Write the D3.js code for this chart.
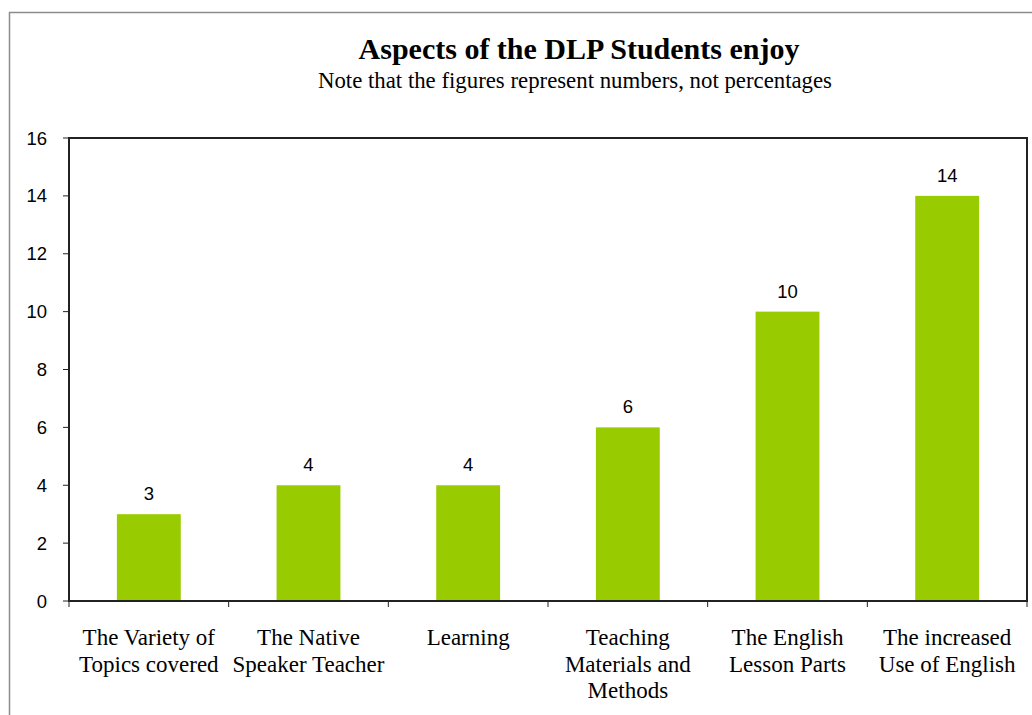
<!DOCTYPE html>
<html>
<head>
  <meta charset="utf-8">
  <script src="https://d3js.org/d3.v7.min.js"></script>
  <style>
    body { margin: 0; background: #fff; }
  </style>
</head>
<body>
  <svg id="chart" width="1032" height="715"></svg>
  <script>
    // data
    const categories = [
      ["The Variety of", "Topics covered"],
      ["The Native", "Speaker Teacher"],
      ["Learning"],
      ["Teaching", "Materials and", "Methods"],
      ["The English", "Lesson Parts"],
      ["The increased", "Use of English"]
    ];
    const values = [3, 4, 4, 6, 10, 14];
    const yTicks = [0, 2, 4, 6, 8, 10, 12, 14, 16];
    const title = "Aspects of the DLP Students enjoy";
    const subtitle = "Note that the figures represent numbers, not percentages";

    let svg = d3.select("svg#chart");

    // outer chart frame (runs off the bottom/right edge)
    svg.append("rect")
        .attr("x", 9.5)
        .attr("y", 12.5)
        .attr("width", 1040)
        .attr("height", 720)
        .style("fill", "none")
        .style("stroke", "#8c8c8c")
        .style("stroke-width", 1.5);

    const plotLeft = 69, plotRight = 1027, plotTop = 138, plotBottom = 601;

    let xscale = d3.scaleBand()
                   .domain(d3.range(categories.length))
                   .range([plotLeft, plotRight])
                   .paddingInner(0.6)
                   .paddingOuter(0.3);

    let yscale = d3.scaleLinear()
                   .domain([0, 16])
                   .range([plotBottom, plotTop]);

    let step = xscale.step();

    // title
    svg.append("text")
        .text(title)
        .attr("x", 579)
        .attr("y", 59)
        .style("font-family", "'Liberation Serif', 'Times New Roman', serif")
        .style("font-weight", "bold")
        .style("font-size", "30px")
        .style("text-anchor", "middle");

    svg.append("text")
        .text(subtitle)
        .attr("x", 575)
        .attr("y", 88)
        .style("font-family", "'Liberation Serif', 'Times New Roman', serif")
        .style("font-size", "22.8px")
        .style("text-anchor", "middle");

    // bars
    values.forEach((v, i) => {
      svg.append("rect")
          .attr("x", xscale(i))
          .attr("y", yscale(v))
          .attr("width", xscale.bandwidth())
          .attr("height", yscale(0) - yscale(v))
          .style("fill", "#99cc00");

      svg.append("text")
          .text(v)
          .attr("x", xscale(i) + xscale.bandwidth() / 2)
          .attr("y", yscale(v) - 14)
          .style("font-family", "Arial, 'Liberation Sans', sans-serif")
          .style("font-size", "18.5px")
          .style("text-anchor", "middle");
    });

    // y axis ticks and labels
    yTicks.forEach(t => {
      svg.append("line")
          .attr("x1", plotLeft - 6)
          .attr("x2", plotLeft)
          .attr("y1", yscale(t))
          .attr("y2", yscale(t))
          .style("stroke", "#222")
          .style("stroke-width", 1);
      svg.append("text")
          .text(t)
          .attr("x", 47)
          .attr("y", yscale(t) + 6.5)
          .style("font-family", "Arial, 'Liberation Sans', sans-serif")
          .style("font-size", "18.5px")
          .style("text-anchor", "end");
    });

    // x axis ticks at category boundaries
    for (let i = 0; i <= categories.length; i++) {
      let xb = plotLeft + i * step;
      svg.append("line")
          .attr("x1", xb)
          .attr("x2", xb)
          .attr("y1", plotBottom)
          .attr("y2", plotBottom + 6)
          .style("stroke", "#222")
          .style("stroke-width", 1);
    }

    // category labels
    categories.forEach((lines, i) => {
      let cx = plotLeft + (i + 0.5) * step;
      let txt = svg.append("text")
          .attr("x", cx)
          .attr("y", 645)
          .style("font-family", "'Liberation Serif', 'Times New Roman', serif")
          .style("font-size", "23px")
          .style("text-anchor", "middle");
      lines.forEach((l, j) => {
        txt.append("tspan")
            .attr("x", cx)
            .attr("dy", j === 0 ? 0 : 26.7)
            .text(l);
      });
    });

    // plot area border
    svg.append("rect")
        .attr("x", plotLeft)
        .attr("y", plotTop)
        .attr("width", plotRight - plotLeft)
        .attr("height", plotBottom - plotTop)
        .style("fill", "none")
        .style("stroke", "#222")
        .style("stroke-width", 2);
  </script>
</body>
</html>
